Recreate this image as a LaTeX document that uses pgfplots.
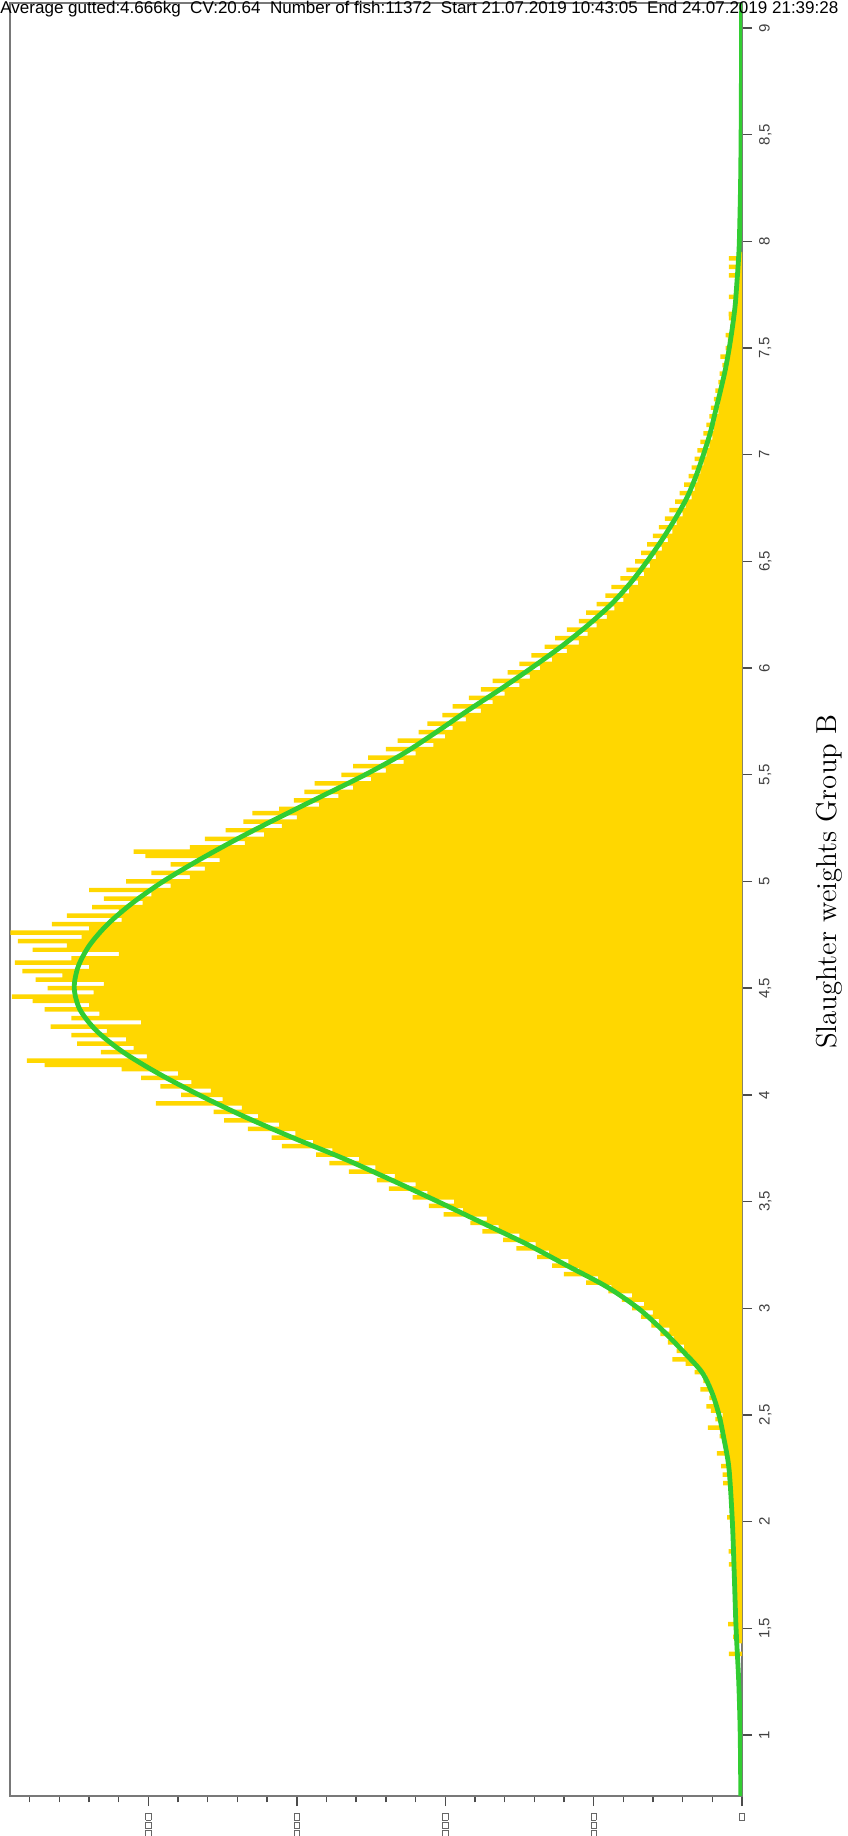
\documentclass[border=0pt]{standalone}
\usepackage{fontspec}
\usepackage{pgfplots}
\usepackage{pgfplotstable}
\pgfplotsset{compat=1.18}
\newfontfamily\arial{Liberation Sans}
\definecolor{barfill}{RGB}{255,215,0}
\definecolor{fitgreen}{RGB}{50,205,50}
\definecolor{framegray}{RGB}{120,120,120}
\newcommand{\tofu}{{\color{black!60}\fboxsep=0pt\fboxrule=0.35pt\fbox{\rule{0pt}{2.4pt}\rule{3pt}{0pt}}}}
\newcommand{\tofuu}{\tofu\kern0.6pt\tofu\kern0.6pt\tofu}

\pgfplotstableread{
w c
1.38 0.0088
1.40 0.0
1.42 0.0
1.44 0.0040
1.46 0.0060
1.48 0.0030
1.50 0.0040
1.52 0.0094
1.54 0.0030
1.56 0.0040
1.58 0.0030
1.60 0.0040
1.62 0.0035
1.64 0.0040
1.66 0.0040
1.68 0.0045
1.70 0.0045
1.72 0.0050
1.74 0.0045
1.76 0.0050
1.78 0.0050
1.80 0.0088
1.82 0.0050
1.84 0.0055
1.86 0.0090
1.88 0.0055
1.90 0.0060
1.92 0.0060
1.94 0.0058
1.96 0.0060
1.98 0.0065
2.00 0.0065
2.02 0.0100
2.04 0.0070
2.06 0.0070
2.08 0.0072
2.10 0.0075
2.12 0.0078
2.14 0.0080
2.16 0.0082
2.18 0.0128
2.20 0.0088
2.22 0.0130
2.24 0.0092
2.26 0.0140
2.28 0.0100
2.30 0.0105
2.32 0.0170
2.34 0.0120
2.36 0.0128
2.38 0.0130
2.40 0.015
2.42 0.0125
2.44 0.023
2.46 0.014
2.48 0.018
2.50 0.013
2.52 0.021
2.54 0.024
2.56 0.017
2.58 0.022
2.60 0.019
2.62 0.028
2.64 0.021
2.66 0.026
2.68 0.024
2.70 0.032
2.72 0.030
2.74 0.038
2.76 0.047
2.78 0.036
2.80 0.044
2.82 0.039
2.84 0.050
2.86 0.046
2.88 0.055
2.90 0.049
2.92 0.061
2.94 0.056
2.96 0.068
2.98 0.060
3.00 0.074
3.02 0.066
3.04 0.081
3.06 0.074
3.08 0.090
3.10 0.088
3.12 0.105
3.14 0.097
3.16 0.120
3.18 0.110
3.20 0.128
3.22 0.117
3.24 0.138
3.26 0.130
3.28 0.152
3.30 0.139
3.32 0.161
3.34 0.150
3.36 0.175
3.38 0.164
3.40 0.183
3.42 0.172
3.44 0.201
3.46 0.188
3.48 0.211
3.50 0.194
3.52 0.222
3.54 0.212
3.56 0.238
3.58 0.220
3.60 0.246
3.62 0.234
3.64 0.265
3.66 0.247
3.68 0.278
3.70 0.258
3.72 0.287
3.74 0.276
3.76 0.310
3.78 0.289
3.80 0.317
3.82 0.301
3.84 0.333
3.86 0.312
3.88 0.349
3.90 0.326
3.92 0.356
3.94 0.337
3.96 0.395
3.98 0.350
4.00 0.378
4.02 0.358
4.04 0.392
4.06 0.371
4.08 0.405
4.10 0.380
4.12 0.418
4.14 0.470
4.16 0.482
4.18 0.401
4.20 0.432
4.22 0.410
4.24 0.448
4.26 0.415
4.28 0.452
4.30 0.428
4.32 0.466
4.34 0.405
4.36 0.452
4.38 0.433
4.40 0.470
4.42 0.440
4.44 0.478
4.46 0.492
4.48 0.437
4.50 0.468
4.52 0.430
4.54 0.476
4.56 0.458
4.58 0.485
4.60 0.440
4.62 0.490
4.64 0.452
4.66 0.420
4.68 0.478
4.70 0.455
4.72 0.488
4.74 0.445
4.76 0.493
4.78 0.440
4.80 0.465
4.82 0.418
4.84 0.455
4.86 0.420
4.88 0.438
4.90 0.404
4.92 0.430
4.94 0.398
4.96 0.440
4.98 0.385
5.00 0.415
5.02 0.372
5.04 0.398
5.06 0.362
5.08 0.385
5.10 0.352
5.12 0.402
5.14 0.410
5.16 0.372
5.18 0.335
5.20 0.362
5.22 0.322
5.24 0.348
5.26 0.310
5.28 0.336
5.30 0.300
5.32 0.330
5.34 0.312
5.36 0.285
5.38 0.302
5.40 0.272
5.42 0.295
5.44 0.262
5.46 0.288
5.48 0.250
5.50 0.270
5.52 0.240
5.54 0.262
5.56 0.228
5.58 0.252
5.60 0.220
5.62 0.240
5.64 0.208
5.66 0.232
5.68 0.200
5.70 0.218
5.72 0.195
5.74 0.212
5.76 0.186
5.78 0.202
5.80 0.176
5.82 0.195
5.84 0.168
5.86 0.184
5.88 0.160
5.90 0.176
5.92 0.150
5.94 0.168
5.96 0.143
5.98 0.158
6.00 0.136
6.02 0.150
6.04 0.128
6.06 0.142
6.08 0.118
6.10 0.133
6.12 0.110
6.14 0.126
6.16 0.104
6.18 0.118
6.20 0.098
6.22 0.110
6.24 0.091
6.26 0.105
6.28 0.086
6.30 0.098
6.32 0.080
6.34 0.092
6.36 0.076
6.38 0.088
6.40 0.070
6.42 0.082
6.44 0.066
6.46 0.078
6.48 0.062
6.50 0.072
6.52 0.058
6.54 0.068
6.56 0.054
6.58 0.064
6.60 0.050
6.62 0.060
6.64 0.047
6.66 0.056
6.68 0.044
6.70 0.052
6.72 0.040
6.74 0.049
6.76 0.038
6.78 0.045
6.80 0.034
6.82 0.042
6.84 0.032
6.86 0.039
6.88 0.030
6.90 0.036
6.92 0.028
6.94 0.034
6.96 0.026
6.98 0.032
7.00 0.024
7.02 0.030
7.04 0.022
7.06 0.028
7.08 0.020
7.10 0.026
7.12 0.019
7.14 0.024
7.16 0.018
7.18 0.022
7.20 0.016
7.22 0.021
7.24 0.015
7.26 0.019
7.28 0.014
7.30 0.018
7.32 0.013
7.34 0.016
7.36 0.012
7.38 0.015
7.40 0.011
7.42 0.0132
7.44 0.0098
7.46 0.0146
7.48 0.0090
7.50 0.0110
7.52 0.0080
7.54 0.0096
7.56 0.0110
7.58 0.0070
7.60 0.0080
7.62 0.0060
7.64 0.0088
7.66 0.0090
7.68 0.0050
7.70 0.0045
7.72 0.0045
7.74 0.0088
7.76 0.0040
7.78 0.0035
7.80 0.0035
7.82 0.0030
7.84 0.0088
7.86 0.0025
7.88 0.0088
7.90 0.0020
7.92 0.0088
7.94 0.0015
}\bars

\pgfplotstableread{
w c
0.714 0.0008
1.0 0.0012
1.25 0.0022
1.5 0.0040
1.75 0.0052
2.0 0.0065
2.25 0.0088
2.4 0.0125
2.5 0.0155
2.6 0.0200
2.7 0.0270
2.8 0.0400
2.9 0.0540
3.0 0.0700
3.1 0.0910
3.2 0.1180
3.3 0.1450
3.4 0.1750
3.5 0.2050
3.6 0.2360
3.7 0.2680
3.8 0.3030
3.9 0.3360
4.0 0.3660
4.1 0.3933
4.2 0.4170
4.3 0.4350
4.4 0.4462
4.5 0.4500
4.6 0.4474
4.7 0.4398
4.8 0.4274
4.9 0.4106
5.0 0.3901
5.1 0.3661
5.2 0.3400
5.3 0.3120
5.4 0.2830
5.5 0.2540
5.6 0.2280
5.7 0.2060
5.8 0.1850
5.9 0.1630
6.0 0.1420
6.1 0.1220
6.2 0.1040
6.3 0.0880
6.4 0.0750
6.5 0.0640
6.6 0.0540
6.7 0.0450
6.8 0.0370
6.9 0.0310
7.0 0.0260
7.1 0.0215
7.2 0.0180
7.3 0.0145
7.4 0.0112
7.5 0.0086
7.6 0.0064
7.7 0.0046
7.8 0.0035
7.9 0.0025
8.0 0.0018
8.25 0.0010
8.5 0.0006
8.75 0.0004
9.0 0.0003
9.117 0.0002
}\fit

\begin{document}
\begin{tikzpicture}
\begin{axis}[
  name=ax,
  scale only axis,
  width=366pt, height=896.5pt,
  x dir=reverse,
  xmin=0, xmax=0.4933,
  ymin=0.714, ymax=9.117,
  axis line style={draw=framegray, line width=1pt},
  tick align=outside,
  xtick pos=bottom,
  ytick pos=right,
  yticklabel pos=right,
  major tick length=5pt,
  minor tick length=3.2pt,
  tick style={draw=black!70, line width=0.7pt},
  xtick={0,0.1,0.2,0.3,0.4},
  minor xtick={0.02,0.04,0.06,0.08,0.12,0.14,0.16,0.18,0.22,0.24,0.26,0.28,0.32,0.34,0.36,0.38,0.42,0.44,0.46,0.48},
  xticklabels={\tofu,\tofuu,\tofuu,\tofuu,\tofuu},
  xticklabel style={rotate=90, anchor=east},
  ytick={1,1.5,2,2.5,3,3.5,4,4.5,5,5.5,6,6.5,7,7.5,8,8.5,9},
  yticklabels={1,{1,5},2,{2,5},3,{3,5},4,{4,5},5,{5,5},6,{6,5},7,{7,5},8,{8,5},9},
  yticklabel style={rotate=90, anchor=north, font=\arial\fontsize{7.5}{9}\selectfont, text=black!75},
]
\addplot[xbar, bar width=0.021, bar shift=0pt, fill=barfill, draw=none] table[x=c, y=w] {\bars};
\addplot[smooth, color=fitgreen, line width=2.4pt] table[x=c, y=w] {\fit};
\end{axis}
\node[rotate=90, anchor=center, font=\fontsize{14.4}{17}\selectfont] at ([xshift=43.5pt, yshift=9pt]ax.east) {Slaughter weights Group B};
\node[anchor=base west, inner sep=0pt] at ([xshift=-5pt, yshift=-5.5pt]ax.north west)
  {\resizebox{419pt}{!}{\arial Average gutted:4.666kg\ \ CV:20.64\ \ Number of fish:11372\ \ Start 21.07.2019 10:43:05\ \ End 24.07.2019 21:39:28}};
\pgfresetboundingbox
\path[use as bounding box] ([xshift=-5pt, yshift=-20pt]ax.south west) rectangle ([xshift=52.5pt, yshift=1.5pt]ax.north east);
\end{tikzpicture}
\end{document}
